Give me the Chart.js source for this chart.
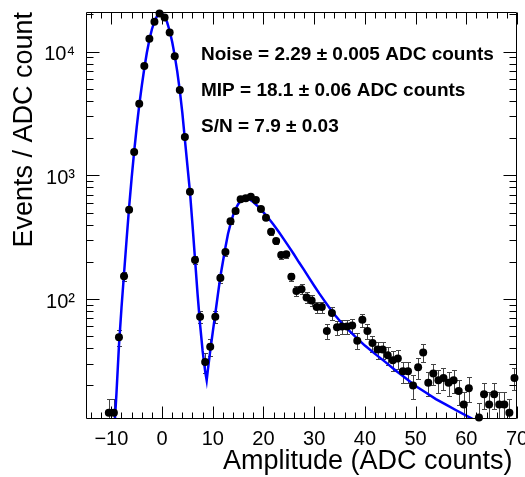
<!DOCTYPE html>
<html><head><meta charset="utf-8">
<script src="https://cdn.jsdelivr.net/npm/chart.js@4.4.1/dist/chart.umd.min.js"></script>
<style>html,body{margin:0;padding:0;background:#fff;overflow:hidden}#wrap{width:525px;height:477px;position:relative}</style>
</head><body><div id="wrap"><canvas id="c" width="525" height="477"></canvas></div>
<script>
// ---- data ----
const binCenters = [-10.5,-9.5,-8.5,-7.5,-6.5,-5.5,-4.5,-3.5,-2.5,-1.5,-0.5,0.5,1.5,2.5,3.5,4.5,5.5,6.5,7.5,8.5,9.5,10.5,11.5,12.5,13.5,14.5,15.5,16.5,17.5,18.5,19.5,20.5,21.5,22.5,23.5,24.5,25.5,26.5,27.5,28.5,29.5,30.5,31.5,32.5,33.5,34.5,35.5,36.5,37.5,38.5,39.5,40.5,41.5,42.5,43.5,44.5,45.5,46.5,47.5,48.5,49.5,50.5,51.5,52.5,53.5,54.5,55.5,56.5,57.5,58.5,59.5,60.5,62.5,63.5,64.5,65.5,66.5,67.5,68.5,69.5];
const counts = [12,12,49,153,527,1543,3793,7650,12710,17460,20400,18920,14330,9200,4900,2042,737,207,72,31,41,72,148,240,425,516,640,652,671,631,534,454,350,294,227,230,151,116,120,103,97,86,86,55,77,59,60,60,61,46,68,55,44,39,39,35,32,33,26,26,20,28,37,21,25,22,23,21,22,18,14,19,11,17,14,17,14,14,12,23];
const countErrors = [3.5,3.5,7,12.4,23,39,62,87,113,132,143,138,120,96,70,45,27,14.4,8.5,5.6,6.4,8.5,12.2,15.5,20.6,22.7,25.3,25.5,25.9,25.1,23.1,21.3,18.7,17.1,15.1,15.2,12.3,10.8,11,10.1,9.8,9.3,9.3,7.4,8.8,7.7,7.7,7.7,7.8,6.8,8.2,7.4,6.6,6.2,6.2,5.9,5.7,5.7,5.1,5.1,4.5,5.3,6.1,4.6,5,4.7,4.8,4.6,4.7,4.2,3.7,4.4,3.3,4.1,3.7,4.1,3.7,3.7,3.5,4.8];
const fitX = [-9.6,-9.25,-9.0,-8.5,-8.0,-7.5,-7.0,-6.5,-6.0,-5.5,-5.0,-4.5,-4.0,-3.5,-3.0,-2.5,-2.0,-1.5,-1.0,-0.5,0,0.5,1.0,1.5,2.0,2.5,3.0,3.5,4.0,4.5,5.0,5.5,6.0,6.5,7.0,7.5,8.0,8.5,8.8,9.0,9.5,10.0,10.5,11.0,11.5,12.0,12.5,13.0,13.5,14.0,14.5,15.0,15.5,16.0,16.5,17.0,17.5,18.0,19.0,20.0,21.0,22.0,23.0,24.0,25.0,26.0,27.0,28.0,29.0,30.0,31.0,32.0,33.0,34.0,35.0,36.0,37.0,38.0,40.0,42.0,44.0,46.0,48.0,50.0,52.0,54.0,56.0,58.0,60.0,62.0,64.0];
const fitY = [7,11.5,17,42,85,160,300,550,950,1560,2450,3700,5300,7350,9800,12500,15200,17600,19400,20400,20300,19200,17300,14700,12000,9300,6900,4850,3200,1950,1200,737,400,210,110,62,38,26,22,26,38,54,76,108,152,200,262,335,405,475,535,585,620,642,650,645,630,608,557,502,449,398,350,305,265,230,198,172,148,128,111,97,85,75,67,60,55,50,42,36,31,26.5,23,19.8,17.5,15.5,14,12.6,11.4,10.3,9.4];
const xMajorTicks = [-10,0,10,20,30,40,50,60,70];
const xMinorTicks = [-14,-12,-8,-6,-4,-2,2,4,6,8,12,14,16,18,22,24,26,28,32,34,36,38,42,44,46,48,52,54,56,58,62,64,66,68];
const yMajorTicks = [100,1000,10000];
const yMinorTicks = [20,30,40,50,60,70,80,90,200,300,400,500,600,700,800,900,2000,3000,4000,5000,6000,7000,8000,9000,20000];
const statLines = ['Noise = 2.29 \u00b1 0.005 ADC counts','MIP = 18.1 \u00b1 0.06 ADC counts','S/N = 7.9 \u00b1 0.03'];
const xTitle = 'Amplitude (ADC counts)';
const yTitle = 'Events / ADC count';

const SUP = ['\u2070','\u00b9','\u00b2','\u00b3','\u2074','\u2075'];
const FONT = "'Liberation Sans', Arial, Helvetica, sans-serif";
Chart.defaults.font.family = FONT;

const rootPlugin = {
  id: 'rootStyle',
  beforeDatasetsDraw(chart) {
    const {ctx, chartArea: a, scales: {x, y}} = chart;
    ctx.save();
    ctx.beginPath(); ctx.rect(a.left, a.top, a.right - a.left, a.bottom - a.top); ctx.clip();
    ctx.strokeStyle = '#444'; ctx.lineWidth = 1;
    binCenters.forEach((bx, i) => {
      const px = Math.round(x.getPixelForValue(bx)) + 0.5;
      const yt = Math.round(y.getPixelForValue(counts[i] + countErrors[i])) + 0.5;
      const lo = counts[i] - countErrors[i];
      const yb = Math.round(y.getPixelForValue(lo > 0 ? lo : 1e-3)) + 0.5;
      ctx.beginPath();
      ctx.moveTo(px, yt); ctx.lineTo(px, yb);
      ctx.moveTo(px - 2.5, yt); ctx.lineTo(px + 2.5, yt);
      ctx.moveTo(px - 2.5, yb); ctx.lineTo(px + 2.5, yb);
      ctx.stroke();
    });
    ctx.restore();
  },
  afterDatasetsDraw(chart) {
    const {ctx, chartArea: a, scales: {x, y}} = chart;
    ctx.save();
    ctx.strokeStyle = '#000'; ctx.lineWidth = 1;
    const L = a.left + 0.5, R = a.right - 0.5, T = a.top + 0.5, B = a.bottom + 0.5;
    ctx.beginPath();
    ctx.rect(L, T, R - L, B - T);
    const xt = (v, len) => {
      const px = Math.round(x.getPixelForValue(v)) + 0.5;
      ctx.moveTo(px, B); ctx.lineTo(px, B - len);
      ctx.moveTo(px, T); ctx.lineTo(px, T + len);
    };
    const yt = (v, len) => {
      const py = Math.round(y.getPixelForValue(v)) + 0.5;
      ctx.moveTo(L, py); ctx.lineTo(L + len, py);
      ctx.moveTo(R, py); ctx.lineTo(R - len, py);
    };
    xMajorTicks.forEach(v => xt(v, 12));
    xMinorTicks.forEach(v => xt(v, 6));
    yMajorTicks.forEach(v => yt(v, 13));
    yMinorTicks.forEach(v => yt(v, 7));
    ctx.stroke();
    ctx.fillStyle = '#000';
    ctx.font = 'bold 19px ' + FONT;
    ctx.textBaseline = 'alphabetic'; ctx.textAlign = 'left';
    statLines.forEach((t, i) => ctx.fillText(t, a.left + 115, a.top + 48 + i * 36));
    ctx.restore();
  }
};

new Chart(document.getElementById('c').getContext('2d'), {
  type: 'scatter',
  data: {
    datasets: [
      { type: 'line', label: 'fit', data: fitX.map((v, i) => ({x: v, y: fitY[i]})),
        borderColor: '#0000ff', borderWidth: 2.5, pointRadius: 0, tension: 0, fill: false, clip: 0, order: 2 },
      { type: 'scatter', label: 'data', data: binCenters.map((v, i) => ({x: v, y: counts[i]})),
        pointRadius: 4, pointHoverRadius: 4, backgroundColor: '#000', borderWidth: 0, clip: false, order: 1 }
    ]
  },
  options: {
    responsive: false, animation: false, devicePixelRatio: 1,
    layout: {padding: {top: 12, right: 8, left: 0, bottom: 0}},
    plugins: {legend: {display: false}, tooltip: {enabled: false}},
    scales: {
      x: {
        type: 'linear', min: -15, max: 70,
        afterBuildTicks(s) { s.ticks = xMajorTicks.map(v => ({value: v})); },
        afterFit(s) { s.height = 59; s.paddingLeft = 0; s.paddingRight = 0; },
        grid: {display: false, drawTicks: false, tickLength: 0},
        border: {display: false},
        ticks: {autoSkip: false, maxRotation: 0, minRotation: 0, padding: 9, color: '#000', font: {size: 20},
          callback: v => v < 0 ? '\u2212' + Math.abs(v) : String(v)},
        title: {display: true, text: xTitle + '\u2006', align: 'end', color: '#000', font: {size: 27, lineHeight: 1}, padding: {top: 0, bottom: 1.5}}
      },
      y: {
        type: 'logarithmic', min: 10.9, max: 20950,
        afterBuildTicks(s) { s.ticks = yMajorTicks.map(v => ({value: v})); },
        afterFit(s) { s.width = 86; s.paddingTop = 0; s.paddingBottom = 0; },
        grid: {display: false, drawTicks: false, tickLength: 0},
        border: {display: false},
        ticks: {autoSkip: false, padding: 11, labelOffset: 3, color: '#000', font: {size: 20},
          callback: v => '10' + SUP[Math.round(Math.log10(v))]},
        title: {display: true, text: yTitle, align: 'end', color: '#000', font: {size: 27}, padding: {top: 8, bottom: 0}}
      }
    }
  },
  plugins: [rootPlugin]
});
</script></body></html>
